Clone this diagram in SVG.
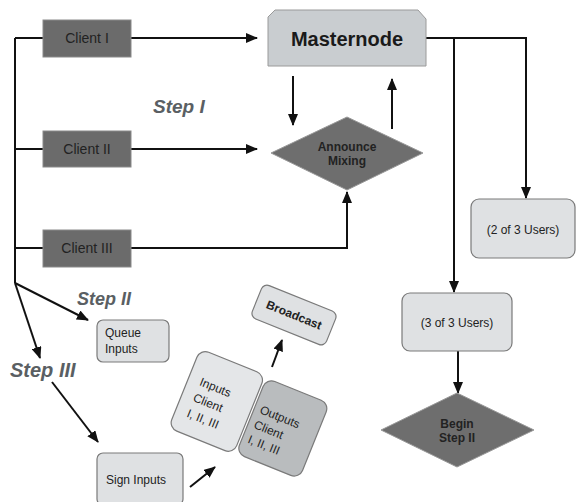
<svg xmlns="http://www.w3.org/2000/svg" width="576" height="502" viewBox="0 0 576 502">
<style>
.client{fill:#6b6b6b;stroke:#8a8a8a;stroke-width:1}
.ct{font-family:"Liberation Sans",Arial,sans-serif;font-size:14px;fill:#222;text-anchor:middle}
.light{fill:#dfe1e3;stroke:#7a7a7a;stroke-width:1.2}
.lt{font-family:"Liberation Sans",Arial,sans-serif;font-size:12px;fill:#222}
.dia{fill:#6e6e6e;stroke:#999;stroke-width:1}
.bt{font-family:"Liberation Sans",Arial,sans-serif;font-size:12px;font-weight:bold;fill:#222;text-anchor:middle}
.step{font-family:"Liberation Sans",Arial,sans-serif;font-weight:bold;font-style:italic;fill:#5a5f63}
.conn{fill:none;stroke:#111;stroke-width:2}
</style>
<defs>
<marker id="ah" markerUnits="userSpaceOnUse" markerWidth="12" markerHeight="10" refX="11" refY="5" orient="auto">
<path d="M0,0 L12,5 L0,10 z" fill="#111"/>
</marker>
</defs>
<rect width="576" height="502" fill="#fff"/>
<g id="connectors">
<path class="conn" d="M15,38 V283"/>
<path class="conn" d="M15,38 H43"/>
<path class="conn" d="M131,38 H257" marker-end="url(#ah)"/>
<path class="conn" d="M15,149 H43"/>
<path class="conn" d="M131,149 H257" marker-end="url(#ah)"/>
<path class="conn" d="M15,248 H43"/>
<path class="conn" d="M131,248 H347 V192" marker-end="url(#ah)"/>
<path class="conn" d="M293,76 V125" marker-end="url(#ah)"/>
<path class="conn" d="M392,129 V79" marker-end="url(#ah)"/>
<path class="conn" d="M426,38 H526 V198" marker-end="url(#ah)"/>
<path class="conn" d="M454,38 V292" marker-end="url(#ah)"/>
<path class="conn" d="M458,351 V393" marker-end="url(#ah)"/>
<path class="conn" d="M15,283 L88,320" marker-end="url(#ah)"/>
<path class="conn" d="M15,283 L40,358" marker-end="url(#ah)"/>
<path class="conn" d="M52,382 L98,442" marker-end="url(#ah)"/>
<path class="conn" d="M190,487 L215,467" marker-end="url(#ah)"/>
<path class="conn" d="M272,367 L282,340" marker-end="url(#ah)"/>
</g>
<g id="client1"><rect class="client" x="43" y="20" width="88" height="37"/><text class="ct" x="87" y="43">Client I</text></g>
<g id="client2"><rect class="client" x="43" y="131" width="88" height="36"/><text class="ct" x="87" y="154">Client II</text></g>
<g id="client3"><rect class="client" x="43" y="230" width="88" height="37"/><text class="ct" x="87" y="253">Client III</text></g>
<g id="masternode">
<polygon points="268,17 275,10 418,10 426,19 426,66 268,66" fill="#c9cdd0" stroke="#9a9a9a" stroke-width="1"/>
<text x="347" y="46" font-family="Liberation Sans,Arial,sans-serif" font-size="20" font-weight="bold" fill="#1a1a1a" text-anchor="middle">Masternode</text>
</g>
<g id="announce">
<polygon class="dia" points="271,153 347,117 423,153 347,190"/>
<text class="bt" x="347" y="151">Announce</text>
<text class="bt" x="347" y="165">Mixing</text>
</g>
<g id="users2"><rect class="light" x="471" y="199" width="104" height="59" rx="8"/><text class="lt" x="523" y="234" text-anchor="middle" font-size="12.5">(2 of 3 Users)</text></g>
<g id="users3"><rect class="light" x="402" y="293" width="110" height="58" rx="8"/><text class="lt" x="457" y="327" text-anchor="middle" font-size="12.5">(3 of 3 Users)</text></g>
<g id="begin">
<polygon class="dia" points="381,430 457,393 534,430 457,467"/>
<text class="bt" x="457" y="428">Begin</text>
<text class="bt" x="457" y="442">Step II</text>
</g>
<g id="queue"><rect class="light" x="97" y="320" width="72" height="42" rx="6"/><text class="lt" x="105" y="337">Queue</text><text class="lt" x="105" y="353">Inputs</text></g>
<g id="sign"><rect class="light" x="97" y="453" width="86" height="52" rx="6"/><text class="lt" x="106" y="484">Sign Inputs</text></g>
<g id="broadcast" transform="translate(294,315) rotate(22)">
<rect class="light" x="-40" y="-18" width="80" height="36" rx="6"/>
<text class="bt" x="0" y="4">Broadcast</text>
</g>
<g id="inputs" transform="translate(217,401) rotate(22)">
<rect x="-35" y="-42" width="70" height="85" rx="9" fill="#e4e6e8" stroke="#7a7a7a" stroke-width="1.2"/>
<text class="lt" x="-23" y="-8">Inputs</text>
<text class="lt" x="-23" y="9">Client</text>
<text class="lt" x="-23" y="26">I, II, III</text>
</g>
<g id="outputs" transform="translate(283,428) rotate(22)">
<rect x="-34" y="-40" width="68" height="81" rx="9" fill="#b9bcbe" stroke="#7a7a7a" stroke-width="1.2"/>
<text class="lt" x="-28" y="-5">Outputs</text>
<text class="lt" x="-28" y="11">Client</text>
<text class="lt" x="-28" y="27">I, II, III</text>
</g>
<text class="step" x="153" y="113" font-size="19">Step I</text>
<text class="step" x="77" y="305" font-size="18">Step II</text>
<text class="step" x="10" y="377" font-size="20">Step III</text>
</svg>
